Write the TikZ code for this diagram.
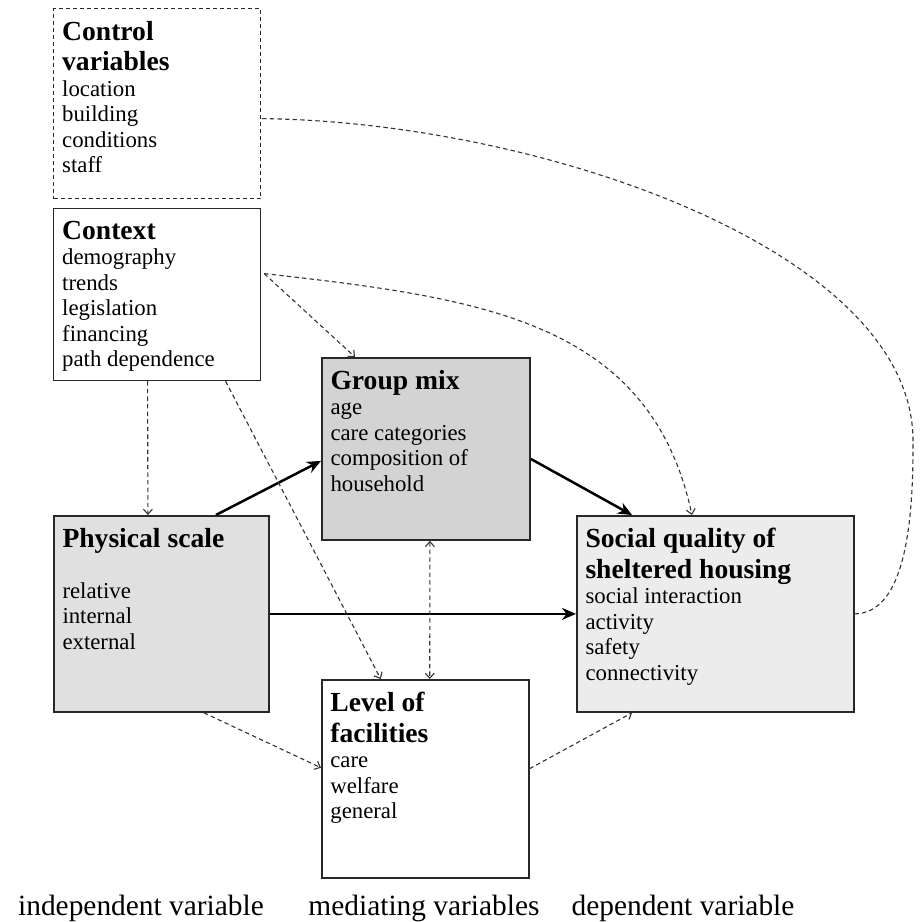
\documentclass[tikz,border=0pt]{standalone}
\usepackage{fontspec}
\setmainfont{Liberation Serif}
\usepackage{tikz}
\usetikzlibrary{arrows.meta,calc,positioning}

\definecolor{mixgray}{RGB}{211,211,211}
\definecolor{scalegray}{RGB}{224,224,224}
\definecolor{qualgray}{RGB}{236,236,236}
\definecolor{edgegray}{RGB}{40,40,40}

\newcommand{\headfont}{\fontsize{13.8}{15.3}\selectfont\bfseries}
\newcommand{\itemfont}{\fontsize{11.4}{12.75}\selectfont}
\newcommand{\boxtext}[3]{\parbox[t][#2][t]{#1}{\raggedright #3}}

\tikzset{
    varbox/.style={draw=edgegray, line width=0.9pt, anchor=north west, inner xsep=4.3pt, inner ysep=6.2pt},
    ctrlbox/.style={varbox, line width=0.6pt, dash pattern=on 2pt off 1.5pt},
    causal/.style={draw=black, line width=1.25pt, -{Stealth[length=7pt,width=6pt]}},
    link/.style={draw=black!80, line width=0.55pt, dash pattern=on 2.2pt off 1.6pt},
    linkarr/.style={link, -{Straight Barb[length=2.5pt,width=4.5pt]}},
    axislabel/.style={anchor=base, font=\fontsize{14.7}{16}\selectfont}
}

\begin{document}
\begin{tikzpicture}[x=0.5pt, y=-0.5pt]
    \useasboundingbox (0,0) rectangle (922,922);

    % boxes
    \node[ctrlbox] (ctrl) at (53,8) {\boxtext{94.9pt}{82.6pt}{{\headfont Control\\variables\par}\itemfont location\\building\\conditions\\staff}};
    \node[varbox, line width=0.6pt] (ctx) at (53,208) {\boxtext{94.9pt}{73.6pt}{{\headfont Context\par}\itemfont demography\\trends\\legislation\\financing\\path dependence}};
    \node[varbox, fill=mixgray] (grp) at (321,357) {\boxtext{95.4pt}{78.6pt}{{\headfont Group mix\par}\itemfont age\\care categories\\composition of\\household}};
    \node[varbox, fill=scalegray] (phys) at (53,515) {\boxtext{98.9pt}{85.6pt}{{\headfont Physical scale\par}\itemfont\mbox{}\\relative\\internal\\external}};
    \node[varbox, fill=qualgray] (soc) at (576,515) {\boxtext{129.9pt}{85.6pt}{{\headfont Social quality of\\sheltered housing\par}\itemfont social interaction\\activity\\safety\\connectivity}};
    \node[varbox, line width=0.75pt] (lev) at (321,679) {\boxtext{94.9pt}{86.6pt}{{\headfont Level of\\facilities\par}\itemfont care\\welfare\\general}};

    % labels below
    \node[axislabel] (indep) at (141,915) {independent variable};
    \node[axislabel] (medi) at (424,915) {mediating variables};
    \node[axislabel] (dep) at (683,915) {dependent variable};

    % main paths
    \draw[causal] ($(phys.north)+(54.5,0)$) -- ($(grp.west)+(0,12)$);
    \draw[causal] ($(grp.east)+(0,10)$) -- ($(soc.north west)+(56,0)$);
    \draw[causal] (phys.east) -- (soc.west);

    % dashed influences
    \coordinate (ctxout) at ($(ctx.east)+(3,-21)$);
    \coordinate (ctrlout) at ($(ctrl.east)+(1,15)$);
    \draw[link] (ctrlout) .. controls (540,122) and (912,250) .. (913,440)
        .. controls (914,570) and (890,613) .. (soc.east);
    \draw[linkarr] (ctxout) -- ($(grp.north west)+(34,0)$);
    \draw[linkarr] (ctxout) .. controls (480,298) and (650,320) .. ($(soc.north west)+(116,0)$);
    \draw[linkarr] ($(ctx.south)+(-9.5,0)$) -- ($(phys.north)+(-13.5,0)$);
    \draw[linkarr] ($(ctx.south)+(68.5,0)$) -- ($(lev.north)+(-44.5,0)$);
    \draw[linkarr, {Straight Barb[length=2.5pt,width=4.5pt]}-{Straight Barb[length=2.5pt,width=4.5pt]}] ($(grp.south)+(4,0)$) -- ($(lev.north)+(4.5,0)$);
    \draw[linkarr] ($(phys.south)+(42.5,0)$) -- ($(lev.west)+(0,-11)$);
    \draw[linkarr] ($(lev.east)+(0,-10)$) -- ($(soc.south west)+(56,0)$);
\end{tikzpicture}
\end{document}
